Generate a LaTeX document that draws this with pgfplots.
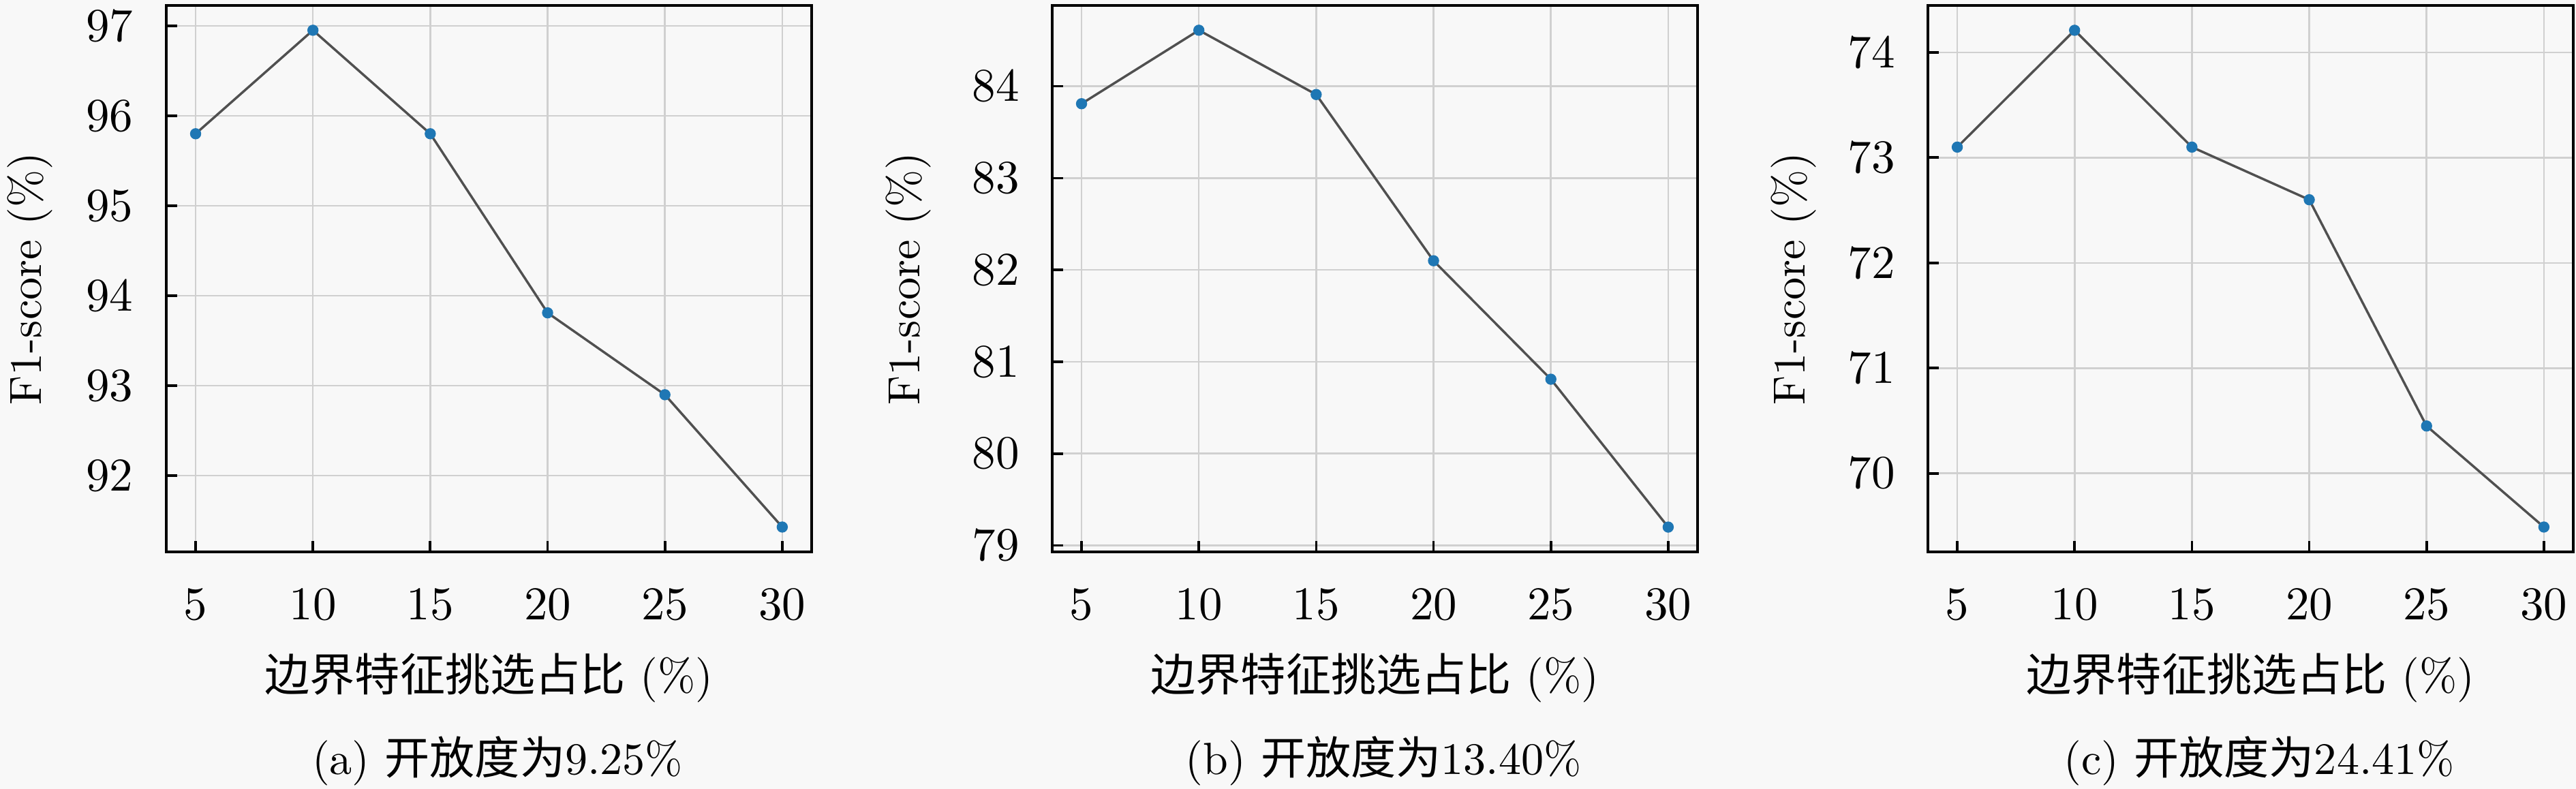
\documentclass[border=0pt]{standalone}
\usepackage{fontspec}
\newfontfamily\cjk{Noto Sans CJK SC}
\usepackage{pgfplots}
\pgfplotsset{compat=1.18}
\definecolor{bgc}{RGB}{248,248,248}
\definecolor{gridc}{RGB}{208,208,208}
\definecolor{linec}{RGB}{80,80,80}
\definecolor{mblue}{RGB}{31,119,180}
\pgfplotsset{
  myax/.style={
    scale only axis, width=150.3pt, height=127.3pt,
    anchor=south west,
    xmin=3.75, xmax=31.25,
    xtick={5,10,15,20,25,30},
    ytick distance=1,
    tick align=inside,
    xtick pos=bottom, ytick pos=left,
    major tick length=2.6pt,
    tick style={black, line width=0.6pt},
    minor tick num=0,
    axis line style={line width=0.7pt},
    grid=major,
    grid style={gridc, line width=0.4pt},
    axis background/.style={fill=bgc},
    xticklabel shift=5.1pt,
    yticklabel shift=4pt,
    xlabel={{\cjk 边界特征挑选占比} (\%)},
    ylabel={F1-score (\%)},
    xlabel style={at={(axis description cs:0.5,0)}, anchor=base, yshift=-32.4pt},
  },
  myplot/.style={color=linec, line width=0.55pt, mark=*, mark size=1.2pt,
      mark options={fill=mblue, draw=mblue, line width=0.2pt}},
}
\begin{document}
\fontsize{10.5}{12.6}\selectfont
\begin{tikzpicture}
\useasboundingbox (0,0) rectangle (600pt,183.81pt);
\fill[bgc] (0,0) rectangle (600pt,183.81pt);

\begin{axis}[myax, name=a, at={(38.73pt,55.24pt)},
  ymin=91.154, ymax=97.226,
  ylabel style={at={(axis description cs:0,0.5)}, anchor=base, yshift=29.2pt}]
\addplot[myplot] coordinates {(5,95.80) (10,96.95) (15,95.80) (20,93.81) (25,92.90) (30,91.43)};
\end{axis}
\node[anchor=base] at ([xshift=2pt,yshift=-51.9pt]a.south) {(a) {\cjk 开放度为}9.25\%};

\begin{axis}[myax, name=b, at={(245.08pt,55.24pt)},
  ymin=78.93, ymax=84.88,
  ylabel style={at={(axis description cs:0,0.5)}, anchor=base, yshift=30.8pt}]
\addplot[myplot] coordinates {(5,83.81) (10,84.61) (15,83.91) (20,82.10) (25,80.81) (30,79.20)};
\end{axis}
\node[anchor=base] at ([xshift=2pt,yshift=-51.9pt]b.south) {(b) {\cjk 开放度为}13.40\%};

\begin{axis}[myax, name=c, at={(449.05pt,55.24pt)},
  ymin=69.254, ymax=74.446,
  ylabel style={at={(axis description cs:0,0.5)}, anchor=base, yshift=28.6pt}]
\addplot[myplot] coordinates {(5,73.10) (10,74.21) (15,73.10) (20,72.60) (25,70.45) (30,69.49)};
\end{axis}
\node[anchor=base] at ([xshift=2pt,yshift=-51.9pt]c.south) {(c) {\cjk 开放度为}24.41\%};
\end{tikzpicture}
\end{document}
